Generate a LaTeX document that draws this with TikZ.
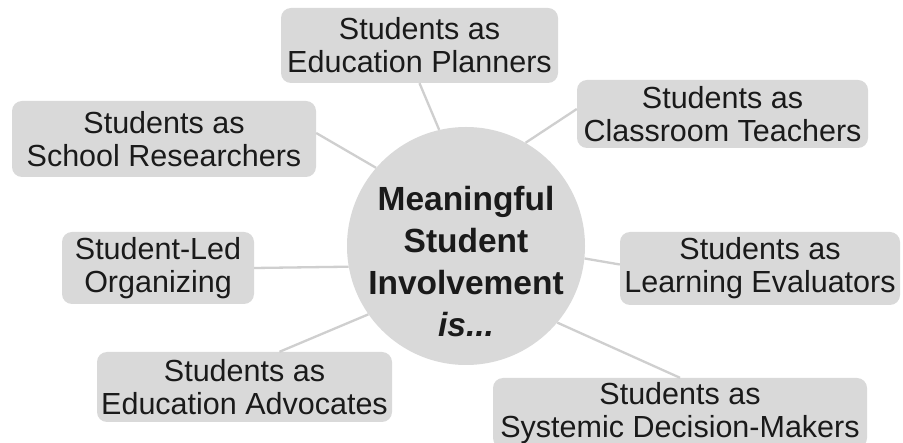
\documentclass[tikz,border=0pt]{standalone}
\usepackage{fontspec}
\setmainfont{Liberation Sans}
\definecolor{boxgray}{HTML}{D9D9D9}
\definecolor{linkgray}{HTML}{CFCFCF}
\definecolor{ink}{HTML}{1A1A1A}

\begin{document}
\begin{tikzpicture}[x=1pt,y=-1pt,
  box/.style={rounded corners=10pt,fill=boxgray,text=ink,align=center,inner sep=4pt,
    font=\fontsize{30.5}{33}\selectfont},
  hub/.style={circle,fill=boxgray,minimum size=238pt,inner sep=0pt},
  hubtext/.style={text=ink,align=center,font=\fontsize{33.5}{42}\selectfont\bfseries},
  link/.style={linkgray,line width=2.3pt}]
  \useasboundingbox[fill=white] (0,0) rectangle (903,443);
  \node[hub] (hub) at (466,246) {};
  \node[hubtext] (hubtext) at (466,262) {Meaningful\\Student\\Involvement\\\textit{is...}};
  \node[box,minimum width=277,minimum height=75] (plan) at (419.5,45.5) {Students as\\Education Planners};
  \node[box,minimum width=291,minimum height=68] (teach) at (722.5,114) {Students as\\Classroom Teachers};
  \node[box,minimum width=304,minimum height=76] (res) at (164,139) {Students as\\School Researchers};
  \node[box,minimum width=192,minimum height=72] (org) at (158,268) {Student-Led\\Organizing};
  \node[box,minimum width=280,minimum height=73] (eval) at (760,268.5) {Students as\\Learning Evaluators};
  \node[box,minimum width=295,minimum height=70] (adv) at (244.5,387) {Students as\\Education Advocates};
  \node[box,minimum width=374,minimum height=70] (dec) at (680,413) {Students as\\Systemic Decision-Makers};
  % spokes
  \draw[link] (plan.south) -- (hub.103);
  \draw[link] ([yshift=5pt]teach.west) -- (hub.60);
  \draw[link] ([yshift=6pt]res.east) -- (hub.139);
  \draw[link] (org.east) -- (hub.190);
  \draw[link] ([yshift=4pt]eval.west) -- (hub.-6);
  \draw[link] ([xshift=35pt]adv.north) -- (hub.215);
  \draw[link] (dec.north) -- (hub.-40);
\end{tikzpicture}
\end{document}
